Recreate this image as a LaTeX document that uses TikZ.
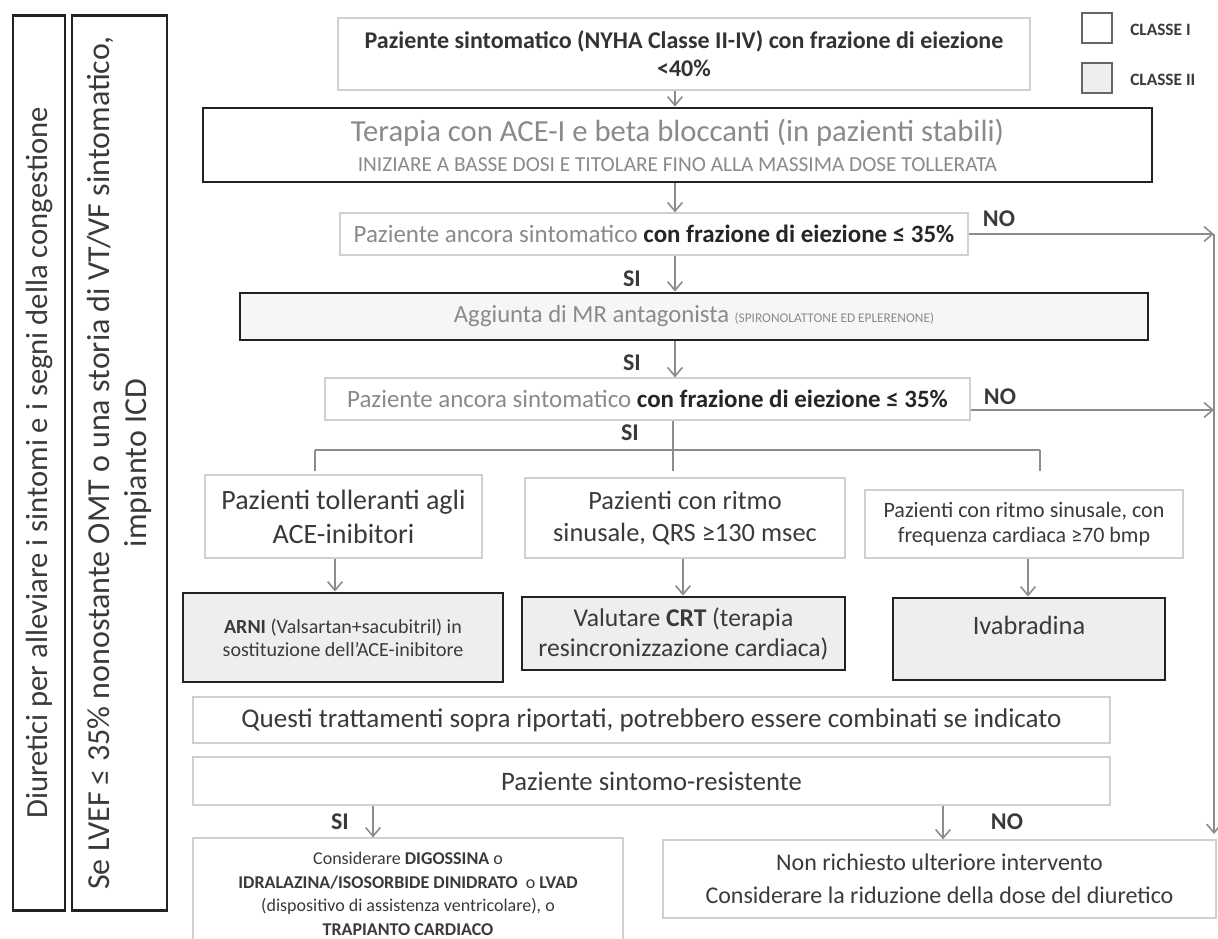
\documentclass[tikz,border=0pt]{standalone}
\usepackage{fontspec}
\setmainfont{Carlito}
\usetikzlibrary{arrows.meta}
\definecolor{thinc}{HTML}{D0D0D0}
\definecolor{thickc}{HTML}{222222}
\definecolor{arrc}{HTML}{8C8C8C}
\definecolor{gtxt}{HTML}{8A8A8A}
\definecolor{dtxt}{HTML}{3A3A3A}
\definecolor{fillb}{HTML}{EEEEEE}
\definecolor{fillc}{HTML}{F6F6F6}
\newcommand\fz[2]{\fontsize{#1pt}{#2pt}\selectfont}
\tikzset{
  wh/.style 2 args={minimum width=#1*0.75pt, minimum height=#2*0.75pt},
  thinbox/.style={draw=thinc, line width=0.9pt, fill=white, inner sep=0pt, align=center, text=dtxt},
  thickbox/.style={draw=thickc, line width=2.2pt, inner sep=0pt, align=center, text=dtxt},
  arr/.style={draw=arrc, line width=1.2pt, -{Straight Barb[length=6.5pt,width=11pt,line width=1.2pt]}},
  ln/.style={draw=arrc, line width=1.1pt},
  lbl/.style={font=\fz{18}{20}\bfseries, text=dtxt, inner sep=0pt},
  sq/.style={draw=black!60, line width=0.8pt, wh={30}{30}, inner sep=0pt},
  legtxt/.style={font=\fz{13}{15}\bfseries, text=dtxt, inner sep=0pt, anchor=west}
}
\begin{document}
\begin{tikzpicture}[x=0.75pt,y=-0.75pt]
\useasboundingbox (0,0) rectangle (1218,939);
\fill[white] (0,0) rectangle (1218,939);
\begin{scope}
\clip (0,0) rectangle (1218,939);

% left vertical boxes
\node[thickbox, wh={895}{52}, rotate=90, font=\fz{23}{26}] (d1) at (39,463)
  {Diuretici per alleviare i sintomi e i segni della congestione};
\node[thickbox, wh={895}{95}, rotate=90, font=\fz{24}{27.75}] (d2) at (119.5,463)
  {Se LVEF ≤ 35\% nonostante OMT o una storia di VT/VF sintomatico,\\impianto ICD};

% legend
\node[sq] (s1) at (1097,28) {};
\node[sq, fill=fillb] (s2) at (1097,78) {};
\node[legtxt] (l1) at (1130,30) {CLASSE I};
\node[legtxt] (l2) at (1130,80) {CLASSE II};

% main column
\node[thinbox, wh={692}{72}, font=\fz{18}{21}\bfseries, text=black!80] (top) at (684,54)
  {Paziente sintomatico (NYHA Classe II-IV) con frazione di eiezione\\<40\%};
\node[thickbox, fill=white, wh={949}{74}, font=\fz{23}{22.5}, text=gtxt] (ter) at (677.5,145)
  {Terapia con ACE-I e beta bloccanti (in pazienti stabili)\\{\fz{16}{22.5}INIZIARE A BASSE DOSI E TITOLARE FINO ALLA MASSIMA DOSE TOLLERATA}};
\node[thinbox, wh={628}{42}, font=\fz{18.7}{20}] (q1) at (654,234)
  {{\color{gtxt}Paziente ancora sintomatico} \textbf{\color{black!85}con frazione di eiezione ≤ 35\%}};
\node[thickbox, fill=fillc, wh={908}{47}, font=\fz{18.5}{20}, text=gtxt] (mra) at (694,316.5)
  {Aggiunta di MR antagonista {\fz{10}{12}(SPIRONOLATTONE ED EPLERENONE)}};
\node[thinbox, wh={645}{42}, font=\fz{18.7}{20}] (q2) at (647.5,399)
  {{\color{gtxt}Paziente ancora sintomatico} \textbf{\color{black!85}con frazione di eiezione ≤ 35\%}};

\node[thinbox, wh={277}{83}, font=\fz{21}{25.5}] (p1) at (343.5,516.5)
  {Pazienti tolleranti agli\\ACE-inibitori};
\node[thinbox, wh={320}{80}, font=\fz{19.8}{24}] (p2) at (685,518)
  {Pazienti con ritmo\\sinusale, QRS ≥130 msec};
\node[thinbox, wh={318}{68}, font=\fz{16.5}{19}] (p3) at (1024,524)
  {Pazienti con ritmo sinusale, con\\frequenza cardiaca ≥70 bmp};

\node[thickbox, fill=fillb, wh={320}{89}, font=\fz{15}{17.5}] (t1) at (343,637.5)
  {\textbf{ARNI} (Valsartan+sacubitril) in\\sostituzione dell'ACE-inibitore};
\node[thickbox, fill=fillb, wh={323}{73}, font=\fz{19.2}{22.5}] (t2) at (683.5,633.5)
  {Valutare \textbf{CRT} (terapia\\resincronizzazione cardiaca)};
\node[thickbox, fill=fillb, wh={272}{82}, font=\fz{19.8}{21}] (t3) at (1029,639)
  {Ivabradina\\\mbox{}};

\node[thinbox, wh={917}{46}, font=\fz{20.3}{22}] (comb) at (651.5,720)
  {Questi trattamenti sopra riportati, potrebbero essere combinati se indicato};
\node[thinbox, wh={917}{48}, font=\fz{20}{22}] (res) at (651.5,781)
  {Paziente sintomo-resistente};

\node[thinbox, wh={430}{112}, font=\fz{13.5}{17.6}] (b1) at (408,894)
  {Considerare \textbf{DIGOSSINA} o\\\textbf{IDRALAZINA/ISOSORBIDE DINIDRATO}~~o \textbf{LVAD}\\(dispositivo di assistenza ventricolare), o\\\textbf{TRAPIANTO CARDIACO}};
\node[thinbox, wh={553}{78}, font=\fz{18}{24.75}] (b2) at (939.5,879)
  {Non richiesto ulteriore intervento\\Considerare la riduzione della dose del diuretico};

% guide coordinates
\coordinate (cx) at (675,0);
\coordinate (cm) at (673,0);
\coordinate (r1) at (1214,234);
\coordinate (r2) at (1214,410);
\coordinate (rend) at (1214,834);
\coordinate (bl) at (315,450);
\coordinate (br) at (1040,450);
\coordinate (tl) at (315,471);
\coordinate (tm) at (673,471);
\coordinate (tr) at (1040,471);

% arrows main column
\draw[arr] (top.south -| cx) -- (ter.north -| cx);
\draw[arr] (ter.south -| cx) -- (q1.north -| cx);
\draw[arr] (q1.south -| cx) -- (mra.north -| cx);
\draw[arr] (mra.south -| cx) -- (q2.north -| cx);
\draw[arr] (q1.east) -- (r1);
\draw[arr] (q2.east |- r2) -- (r2);
\draw[arr] (r1) -- (rend);

% branching
\draw[ln] (q2.south -| cm) -- (tm);
\draw[ln] (bl) -- (br);
\draw[ln] (bl) -- (tl);
\draw[ln] (br) -- (tr);

\draw[arr] (p1.south -| 335,0) -- (t1.north -| 335,0);
\draw[arr] (p2.south -| 683,0) -- (t2.north -| 683,0);
\draw[arr] (p3.south -| 1028,0) -- (t3.north -| 1028,0);

\draw[arr] (res.south -| 373,0) -- (b1.north -| 373,0);
\draw[arr] (res.south -| 943,0) -- (b2.north -| 943,0);

% labels
\node[lbl] (no1) at (999,219) {NO};
\node[lbl] (si1) at (632,279) {SI};
\node[lbl] (si2) at (632,363) {SI};
\node[lbl] (no2) at (1000,397) {NO};
\node[lbl] (si3) at (630,433) {SI};
\node[lbl] (si4) at (340,822) {SI};
\node[lbl] (no3) at (1007,822) {NO};
\end{scope}
\end{tikzpicture}
\end{document}
